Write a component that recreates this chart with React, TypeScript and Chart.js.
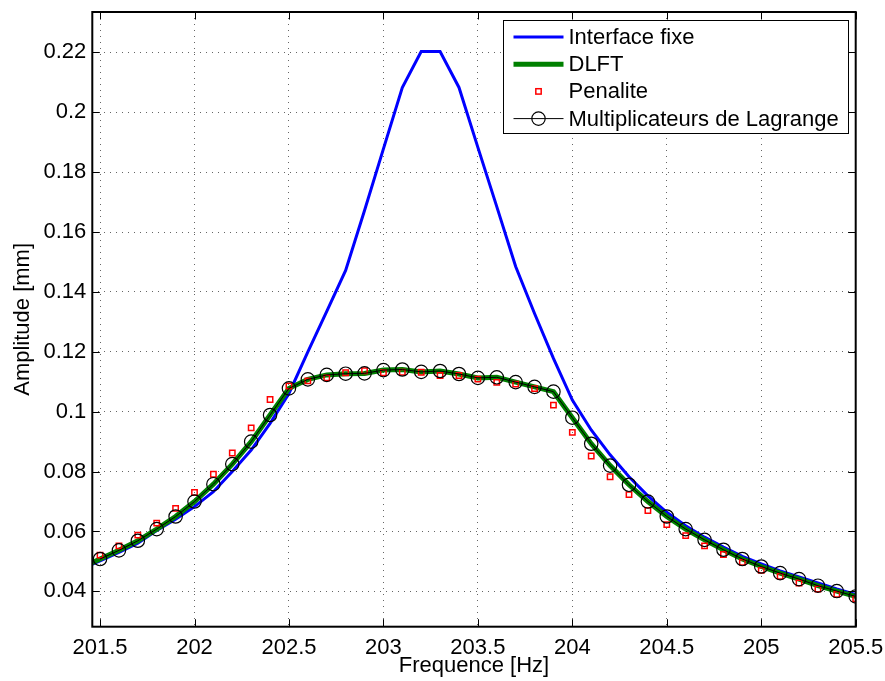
import React, { useEffect, useRef } from "react";
import { Chart, registerables } from "chart.js";

Chart.register(...registerables);

const frequence = [
  201.4, 201.5, 201.6, 201.7, 201.8, 201.9, 202.0, 202.1, 202.2, 202.3, 202.4,
  202.5, 202.6, 202.7, 202.8, 202.9, 203.0, 203.1, 203.2, 203.3, 203.4,
  203.5, 203.6, 203.7, 203.8, 203.9, 204.0, 204.1, 204.2, 204.3, 204.4,
  204.5, 204.6, 204.7, 204.8, 204.9, 205.0, 205.1, 205.2, 205.3, 205.4, 205.5,
];

const interfaceFixe = [
  0.0474, 0.0502, 0.0530, 0.0561, 0.0603, 0.0641, 0.0683, 0.0733, 0.0800, 0.0872, 0.0961,
  0.1061, 0.1200, 0.1335, 0.1472, 0.1672, 0.1878, 0.2083, 0.2203, 0.2203, 0.2083,
  0.1883, 0.1685, 0.1485, 0.1328, 0.1178, 0.1039, 0.0939, 0.0856, 0.0783, 0.0719,
  0.0664, 0.0619, 0.0581, 0.0548, 0.0517, 0.0492, 0.0468, 0.0448, 0.0428, 0.0408, 0.0390,
];

const dlft = [
  0.0479, 0.0508, 0.0537, 0.0569, 0.0608, 0.0650, 0.0700, 0.0758, 0.0825, 0.0900, 0.0989,
  0.1078, 0.1108, 0.1123, 0.1127, 0.1128, 0.1139, 0.1141, 0.1133, 0.1136, 0.1126,
  0.1113, 0.1115, 0.1099, 0.1083, 0.1067, 0.0980, 0.0893, 0.0820, 0.0756, 0.0700,
  0.0650, 0.0608, 0.0572, 0.0539, 0.0508, 0.0483, 0.0461, 0.0441, 0.0419, 0.0401, 0.0383,
];

const penalite = [
  null, 0.0521, 0.0552, 0.0588, 0.0628, 0.0677, 0.0730, 0.0791, 0.0862, 0.0946, 0.1041,
  0.1086, 0.1103, 0.1113, 0.1130, 0.1137, 0.1130, 0.1132, 0.1132, 0.1121, 0.1121,
  0.1109, 0.1098, 0.1092, 0.1077, 0.1022, 0.0931, 0.0852, 0.0783, 0.0723, 0.0670,
  0.0623, 0.0586, 0.0552, 0.0523, 0.0497, 0.0470, 0.0450, 0.0428, 0.0408, 0.0390, 0.0375,
];

const lagrange = [
  null, 0.0508, 0.0537, 0.0569, 0.0608, 0.0650, 0.0700, 0.0758, 0.0825, 0.0900, 0.0989,
  0.1078, 0.1108, 0.1123, 0.1127, 0.1128, 0.1139, 0.1141, 0.1133, 0.1136, 0.1126,
  0.1113, 0.1115, 0.1099, 0.1083, 0.1067, 0.0980, 0.0893, 0.0820, 0.0756, 0.0700,
  0.0650, 0.0608, 0.0572, 0.0539, 0.0508, 0.0483, 0.0461, 0.0441, 0.0419, 0.0401, 0.0383,
];

const xTicks = [201.5, 202, 202.5, 203, 203.5, 204, 204.5, 205, 205.5];
const xTickLabels = ["201.5", "202", "202.5", "203", "203.5", "204", "204.5", "205", "205.5"];
const yTicks = [0.04, 0.06, 0.08, 0.1, 0.12, 0.14, 0.16, 0.18, 0.2, 0.22];
const yTickLabels = ["0.04", "0.06", "0.08", "0.1", "0.12", "0.14", "0.16", "0.18", "0.2", "0.22"];

const seriesLabels = ["Interface fixe", "DLFT", "Penalite", "Multiplicateurs de Lagrange"];

const X_MIN = 201.459;
const X_MAX = 205.5;
const Y_MIN = 0.0282;
const Y_MAX = 0.2335;

const FONT = "'Liberation Sans', Arial, Helvetica, sans-serif";

const toPoints = (vals: (number | null)[]) =>
  frequence.map((f, i) => ({ x: f, y: vals[i] }));

const framePlugin = {
  id: "matlabFrame",
  afterDraw(chart: any) {
    const { ctx, chartArea } = chart;
    const { left, right, top, bottom } = chartArea;
    const xs = chart.scales.x;
    const ys = chart.scales.y;
    const tl = 7.5;
    ctx.save();
    // inner tick marks
    ctx.strokeStyle = "#000";
    ctx.lineWidth = 1;
    ctx.beginPath();
    xTicks.forEach((v) => {
      const px = Math.round(xs.getPixelForValue(v)) + 0.5;
      ctx.moveTo(px, bottom);
      ctx.lineTo(px, bottom - tl);
      ctx.moveTo(px, top);
      ctx.lineTo(px, top + tl);
    });
    yTicks.forEach((v) => {
      const py = Math.round(ys.getPixelForValue(v)) + 0.5;
      ctx.moveTo(left, py);
      ctx.lineTo(left + tl, py);
      ctx.moveTo(right, py);
      ctx.lineTo(right - tl, py);
    });
    ctx.stroke();
    // frame
    ctx.lineWidth = 2;
    ctx.strokeRect(left, top, right - left, bottom - top);

    // legend
    const ds = chart.data.datasets;
    const bw = 345;
    const bh = 113;
    const bx = Math.round(right - 7.5 - bw) + 0.5;
    const by = Math.round(top + 8) + 0.5;
    ctx.fillStyle = "#fff";
    ctx.fillRect(bx, by, bw, bh);
    ctx.lineWidth = 1;
    ctx.strokeStyle = "#000";
    ctx.strokeRect(bx, by, bw, bh);
    const rowH = 27.2;
    const x1 = bx + 10;
    const x2 = bx + 60;
    const xm = (x1 + x2) / 2;
    ctx.font = `22px ${FONT}`;
    ctx.textBaseline = "middle";
    ctx.textAlign = "left";
    ds.forEach((d: any, i: number) => {
      const cy = by + 16.5 + i * rowH;
      if (d.showLine !== false && d.borderWidth > 0) {
        ctx.strokeStyle = d.borderColor;
        ctx.lineWidth = d.borderWidth;
        ctx.beginPath();
        ctx.moveTo(x1, cy);
        ctx.lineTo(x2, cy);
        ctx.stroke();
      }
      if (d.pointRadius > 0) {
        ctx.lineWidth = d.pointBorderWidth;
        ctx.strokeStyle = d.pointBorderColor;
        ctx.fillStyle = d.pointBackgroundColor;
        if (d.pointStyle === "rect") {
          const s = d.pointRadius * Math.SQRT1_2;
          ctx.fillRect(xm - s, cy - s, 2 * s, 2 * s);
          ctx.strokeRect(xm - s, cy - s, 2 * s, 2 * s);
        } else {
          ctx.beginPath();
          ctx.arc(xm, cy, d.pointRadius, 0, Math.PI * 2);
          ctx.fill();
          ctx.stroke();
        }
      }
      ctx.fillStyle = "#000";
      ctx.fillText(d.label, bx + 65, cy + 1);
    });
    ctx.restore();
  },
};

const zeroPad = (scale: any) => {
  scale.paddingTop = 0;
  scale.paddingBottom = 0;
  scale.paddingLeft = 0;
  scale.paddingRight = 0;
};

export default function App() {
  const ref = useRef<HTMLCanvasElement | null>(null);

  useEffect(() => {
    if (!ref.current) return;
    Chart.defaults.font.family = FONT;
    const chart = new Chart(ref.current, {
      type: "line",
      data: {
        datasets: [
          {
            label: seriesLabels[0],
            data: toPoints(interfaceFixe),
            borderColor: "#0000ff",
            borderWidth: 3,
            pointRadius: 0,
            tension: 0,
            order: 4,
          },
          {
            label: seriesLabels[1],
            data: toPoints(dlft),
            borderColor: "#008000",
            borderWidth: 5,
            pointRadius: 0,
            tension: 0,
            order: 3,
          },
          {
            label: seriesLabels[2],
            data: toPoints(penalite),
            showLine: false,
            borderColor: "#ff0000",
            borderWidth: 0,
            pointStyle: "rect",
            pointRadius: 3.8,
            pointBorderWidth: 1.5,
            pointBorderColor: "#ff0000",
            pointBackgroundColor: "rgba(255,255,255,0)",
            order: 2,
          },
          {
            label: seriesLabels[3],
            data: toPoints(lagrange),
            borderColor: "#000000",
            borderWidth: 1,
            pointStyle: "circle",
            pointRadius: 6.7,
            pointBorderWidth: 1.2,
            pointBorderColor: "#000000",
            pointBackgroundColor: "rgba(255,255,255,0)",
            tension: 0,
            order: 1,
          },
        ],
      } as any,
      options: {
        responsive: false,
        animation: false,
        devicePixelRatio: 1,
        layout: { padding: { left: 0, top: 12, right: 29.3, bottom: 0 } },
        plugins: {
          legend: { display: false },
          tooltip: { enabled: false },
        },
        scales: {
          x: {
            type: "linear",
            min: X_MIN,
            max: X_MAX,
            afterBuildTicks: (scale: any) => {
              scale.ticks = xTicks.map((v) => ({ value: v }));
            },
            afterFit: (scale: any) => {
              scale.height = 54.3;
              zeroPad(scale);
            },
            ticks: {
              autoSkip: false,
              maxRotation: 0,
              padding: 8,
              color: "#000",
              font: { size: 22, family: FONT },
              callback: (v: any) => {
                const i = xTicks.findIndex((t) => Math.abs(t - v) < 1e-6);
                return i >= 0 ? xTickLabels[i] : "";
              },
            },
            grid: {
              drawTicks: false,
              color: "rgba(0,0,0,0.6)",
              lineWidth: 1,
            },
            border: { display: false, dash: [1, 5] },
            title: {
              display: true,
              text: "Frequence [Hz]",
              color: "#000",
              font: { size: 22, family: FONT },
              padding: { top: 0, bottom: 2 },
            },
          },
          y: {
            type: "linear",
            min: Y_MIN,
            max: Y_MAX,
            afterBuildTicks: (scale: any) => {
              scale.ticks = yTicks.map((v) => ({ value: v }));
            },
            afterFit: (scale: any) => {
              scale.width = 92.3;
              zeroPad(scale);
            },
            ticks: {
              autoSkip: false,
              padding: 6,
              color: "#000",
              font: { size: 22, family: FONT },
              callback: (v: any) => {
                const i = yTicks.findIndex((t) => Math.abs(t - v) < 1e-9);
                return i >= 0 ? yTickLabels[i] : "";
              },
            },
            grid: {
              drawTicks: false,
              color: "rgba(0,0,0,0.6)",
              lineWidth: 1,
            },
            border: { display: false, dash: [1, 5] },
            title: {
              display: true,
              text: "Amplitude [mm]",
              color: "#000",
              font: { size: 22, family: FONT },
              padding: { top: 10, bottom: 0 },
            },
          },
        },
      } as any,
      plugins: [framePlugin],
    });
    return () => chart.destroy();
  }, []);

  return (
    <div style={{ position: "absolute", left: 0, top: 0, width: 885, height: 681, background: "#fff" }}>
      <canvas ref={ref} width={885} height={681} />
    </div>
  );
}
